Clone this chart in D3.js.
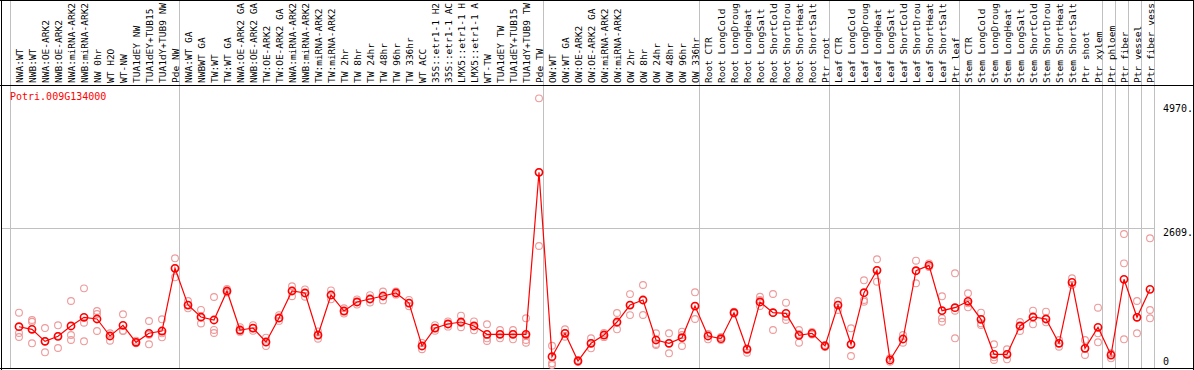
<!DOCTYPE html>
<html><head><meta charset="utf-8">
<script src="https://cdn.jsdelivr.net/npm/d3@7"></script>
<style>
html,body{margin:0;padding:0;background:#fff;}
svg{display:block;}
</style></head>
<body>
<svg id="chart" width="1194" height="370"></svg>
<script>
const geneName = "Potri.009G134000";
const categories = [
"NWA:WT","NWB:WT","NWA:OE-ARK2","NWB:OE-ARK2","NWA:miRNA-ARK2","NWB:miRNA-ARK2","NW 0hr","WT H2O","WT-NW","TUA1dEY NW","TUA1dEY+TUB15 NW","TUA1dY+TUB9 NW","Pde NW",
"NWA:WT GA","NWBWT GA","TW:WT","TW:WT GA","NWA:OE-ARK2 GA","NWB:OE-ARK2 GA","TW:OE-ARK2","TW:OE-ARK2 GA","NWA:miRNA-ARK2","NWB:miRNA-ARK2","TW:miRNA-ARK2","TW:miRNA-ARK2",
"TW 2hr","TW 8hr","TW 24hr","TW 48hr","TW 96hr","TW 336hr","WT ACC","35S::etr1-1 H2O","35S::etr1-1 ACC","LMX5::etr1-1 H2O","LMX5::etr1-1 ACC","WT-TW","TUA1dEY TW","TUA1dEY+TUB15 TW","TUA1dY+TUB9 TW","Pde TW",
"OW:WT","OW:WT GA","OW:OE-ARK2","OW:OE-ARK2 GA","OW:miRNA-ARK2","OW:miRNA-ARK2","OW 2hr","OW 8hr","OW 24hr","OW 48hr","OW 96hr","OW 336hr",
"Root CTR","Root LongCold","Root LongDrought","Root LongHeat","Root LongSalt","Root ShortCold","Root ShortDrought","Root ShortHeat","Root ShortSalt","Ptr root",
"Leaf CTR","Leaf LongCold","Leaf LongDrought","Leaf LongHeat","Leaf LongSalt","Leaf ShortCold","Leaf ShortDrought","Leaf ShortHeat","Leaf ShortSalt","Ptr leaf",
"Stem CTR","Stem LongCold","Stem LongDrought","Stem LongHeat","Stem LongSalt","Stem ShortCold","Stem ShortDrought","Stem ShortHeat","Stem ShortSalt","Ptr shoot",
"Ptr xylem","Ptr phloem","Ptr fiber","Ptr vessel","Ptr fiber vessel"
];
const labelMaxChars = 14;
const meanValues = [
729,680,451,546,743,908,876,552,756,432,604,647,1841,
1142,914,857,1409,666,704,438,895,1409,1371,571,1333,
1028,1200,1257,1314,1371,1180,362,704,781,819,743,585,585,585,585,3669,
158,604,76,413,571,819,1142,1238,476,413,520,1123,
552,501,996,299,1200,996,984,565,604,362,
1142,394,1377,1803,95,495,1795,1898,1034,1091,
1213,870,204,204,743,914,876,413,1575,318,
718,190,1632,908,1441
];
const replicateValues = [
[996,609,533],[857,824,413],[704,451,242],[756,552,324],[1219,571,476],[1460,805,451],[1028,971,647],[604,552,463],[965,653,647],[463,432,413],[838,577,394],[870,604,527],[2032,1841,1670],
[1219,1142,1080],[1050,900,790],[1295,667,609],[1450,1400,1380],[720,650,630],[760,700,650],[520,430,360],[950,890,840],[1500,1420,1310],[1440,1370,1300],[640,570,500],[1420,1330,1250],
[1080,1030,980],[1250,1200,1150],[1330,1250,1190],[1400,1310,1230],[1400,1370,1340],[1240,1180,1120],[420,360,300],[760,700,650],[830,780,730],[940,800,720],[830,740,660],[775,508,457],[666,590,508],[666,590,489],[889,552,476,425],[5078,3669,2266],
[367,32,0],[680,604,539],[57,76,95],[508,413,318],[610,570,530],[990,800,680],[1350,1140,950],[1523,1238,952],[604,400,381],[604,413,223],[634,571,362],[1384,1123,876],
[590,489],[533,476],[1015,977],[318,234],[1300,1238,1123],[1352,996,666],[1186,920,857],[666,590,425],[628,580],[381,343],
[1219,1142,1047],[699,171,394],[1613,1238,1205],[2013,1586,1803],[128,63],[571,425],[1986,1556,1795],[1936,1866],[1308,889,824],[1746,508,1034],
[1365,1099,1175],[996,794,762],[394,95,147],[299,109,204],[819,647,743],[1034,775,914],[1015,813,876],[476,348,413],[1651,1523],[476,190,318],
[1091,432,604],[223,128],[2494,1936,489],[1219,604,908],[2413,1047,889]
];
const groupLastIndex = [12,40,52,62,72,83,84,85,86,87];
const yTickValues = [0, 2609, 4970];
const yTickLabels = ["0", "2609.", "4970."];

const W = 1194, H = 370;
const svg = d3.select("#chart");
const mono = "'DejaVu Sans Mono', 'Liberation Mono', monospace";
const headerBottom = 85.5, plotBottom = 368.5;

const x = d3.scaleBand().domain(d3.range(categories.length)).range([10, 1154]).padding(0);
const px = i => x(i) + 9;
const y = d3.scaleLinear().domain([0, 4970]).range([365, 104]);

svg.append("rect").attr("width", W).attr("height", H).attr("fill", "#fff");

// separators
const sepX = [x(0)].concat(groupLastIndex.map(i => x(i) + x.bandwidth()));
svg.selectAll("line.sep").data(sepX).join("line")
  .attr("x1", d => d + 0.5).attr("x2", d => d + 0.5)
  .attr("y1", 0).attr("y2", plotBottom)
  .attr("stroke", "#c0c0c0").attr("stroke-width", 1);

// gridline at middle tick
svg.append("line")
  .attr("x1", 1).attr("x2", x(87) + x.bandwidth() + 0.5)
  .attr("y1", Math.round(y(yTickValues[1])) + 0.5).attr("y2", Math.round(y(yTickValues[1])) + 0.5)
  .attr("stroke", "#c0c0c0").attr("stroke-width", 1);

// frame
svg.append("line").attr("x1", 0).attr("x2", W).attr("y1", headerBottom).attr("y2", headerBottom).attr("stroke", "#000");
svg.append("line").attr("x1", 0).attr("x2", W).attr("y1", 0.5).attr("y2", 0.5).attr("stroke", "#000");
svg.append("line").attr("x1", 0).attr("x2", W).attr("y1", plotBottom).attr("y2", plotBottom).attr("stroke", "#000");
svg.append("line").attr("x1", 1.5).attr("x2", 1.5).attr("y1", 0).attr("y2", H).attr("stroke", "#000");
svg.append("line").attr("x1", W - 0.5).attr("x2", W - 0.5).attr("y1", 0).attr("y2", H).attr("stroke", "#000");

// header labels (truncated as in the original)
svg.selectAll("text.cat").data(categories).join("text")
  .attr("class", "cat")
  .attr("transform", (d, i) => `translate(${px(i)},83) rotate(-90)`)
  .attr("dominant-baseline", "central")
  .attr("font-family", mono).attr("font-size", 9.5).attr("fill", "#000")
  .text(d => d.slice(0, labelMaxChars));

// title
svg.append("text").attr("x", 10).attr("y", 100)
  .attr("font-family", mono).attr("font-size", 10).attr("fill", "#ff0000")
  .text(geneName);

// y labels
svg.selectAll("text.ytick").data(yTickValues).join("text")
  .attr("x", 1163)
  .attr("y", (d, i) => i === 0 ? y(d) : y(d) + 8)
  .attr("font-family", mono).attr("font-size", 10).attr("fill", "#000")
  .text((d, i) => yTickLabels[i]);

// replicates
const reps = [];
replicateValues.forEach((arr, i) => arr.forEach(v => reps.push({i, v})));
svg.selectAll("circle.rep").data(reps).join("circle")
  .attr("cx", d => px(d.i)).attr("cy", d => y(d.v)).attr("r", 3.4)
  .attr("fill", "none").attr("stroke", "#ee9a9a").attr("stroke-width", 1.1);

// mean line
const line = d3.line().x((d, i) => px(i)).y(d => y(d));
svg.append("path").datum(meanValues).attr("d", line)
  .attr("fill", "none").attr("stroke", "#ff0000").attr("stroke-width", 1.2);

svg.selectAll("circle.mean").data(meanValues).join("circle")
  .attr("cx", (d, i) => px(i)).attr("cy", d => y(d)).attr("r", 3.6)
  .attr("fill", "none").attr("stroke", "#ff0000").attr("stroke-width", 1.6);
</script>
</body></html>
